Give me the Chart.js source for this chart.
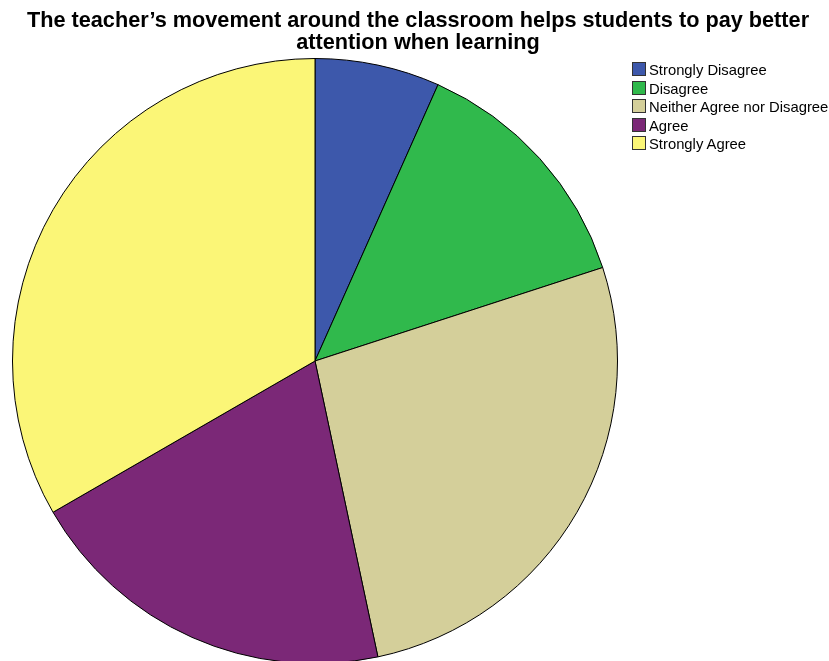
<!DOCTYPE html>
<html>
<head>
<meta charset="utf-8">
<script src="https://cdn.jsdelivr.net/npm/chart.js@4"></script>
<style>
  html, body { margin: 0; padding: 0; background: #fff; overflow: hidden; }
  #wrap { position: relative; width: 829px; height: 661px; overflow: hidden; }
  #chart { position: absolute; left: 0; top: 0; }
  #title {
    position: absolute; left: 0; top: 9px; width: 836px; text-align: center;
    font-family: "Liberation Sans", Arial, sans-serif; font-weight: bold;
    font-size: 21.7px; line-height: 22px; color: #000; white-space: nowrap;
  }
  #legend { position: absolute; left: 632px; top: 62px; font-family: "Liberation Sans", Arial, sans-serif; font-size: 14.8px; color: #000; }
  #legend .row { position: absolute; left: 0; height: 18px; white-space: nowrap; }
  #legend .box { position: absolute; left: 0; top: 0; width: 12px; height: 12px; border: 1px solid #333; }
  #legend .lbl { position: absolute; left: 17px; top: -1px; line-height: 18px; }
</style>
</head>
<body>
<div id="wrap">
  <canvas id="chart"></canvas>
  <div id="title">The teacher’s movement around the classroom helps students to pay better<br>attention when learning</div>
  <div id="legend"></div>
</div>
<script>
// Survey responses
const categories = ['Strongly Disagree', 'Disagree', 'Neither Agree nor Disagree', 'Agree', 'Strongly Agree'];
const counts = [2, 4, 8, 6, 10];
const colors = ['#3d58ab', '#30b94c', '#d4cf9a', '#7b2877', '#fbf677'];

// Build the legend
const legend = document.getElementById('legend');
categories.forEach((c, i) => {
  const row = document.createElement('div');
  row.className = 'row';
  row.style.top = Math.round(i * 18.5) + 'px';
  row.innerHTML = '<div class="box" style="background:' + colors[i] + '"></div><div class="lbl">' + c + '</div>';
  legend.appendChild(row);
});

// Canvas is taller than the window so the pie runs off the bottom edge
const canvas = document.getElementById('chart');
canvas.width = 829;
canvas.height = 700;
canvas.style.width = '829px';
canvas.style.height = '700px';

new Chart(canvas.getContext('2d'), {
  type: 'pie',
  data: {
    labels: categories,
    datasets: [{
      data: counts,
      backgroundColor: colors,
      borderColor: '#000',
      borderWidth: 1
    }]
  },
  options: {
    responsive: false,
    animation: false,
    layout: { padding: { left: 12, right: 211, top: 58, bottom: 36 } },
    plugins: {
      legend: { display: false },
      title: { display: false },
      tooltip: { enabled: false }
    }
  }
});
</script>
</body>
</html>
